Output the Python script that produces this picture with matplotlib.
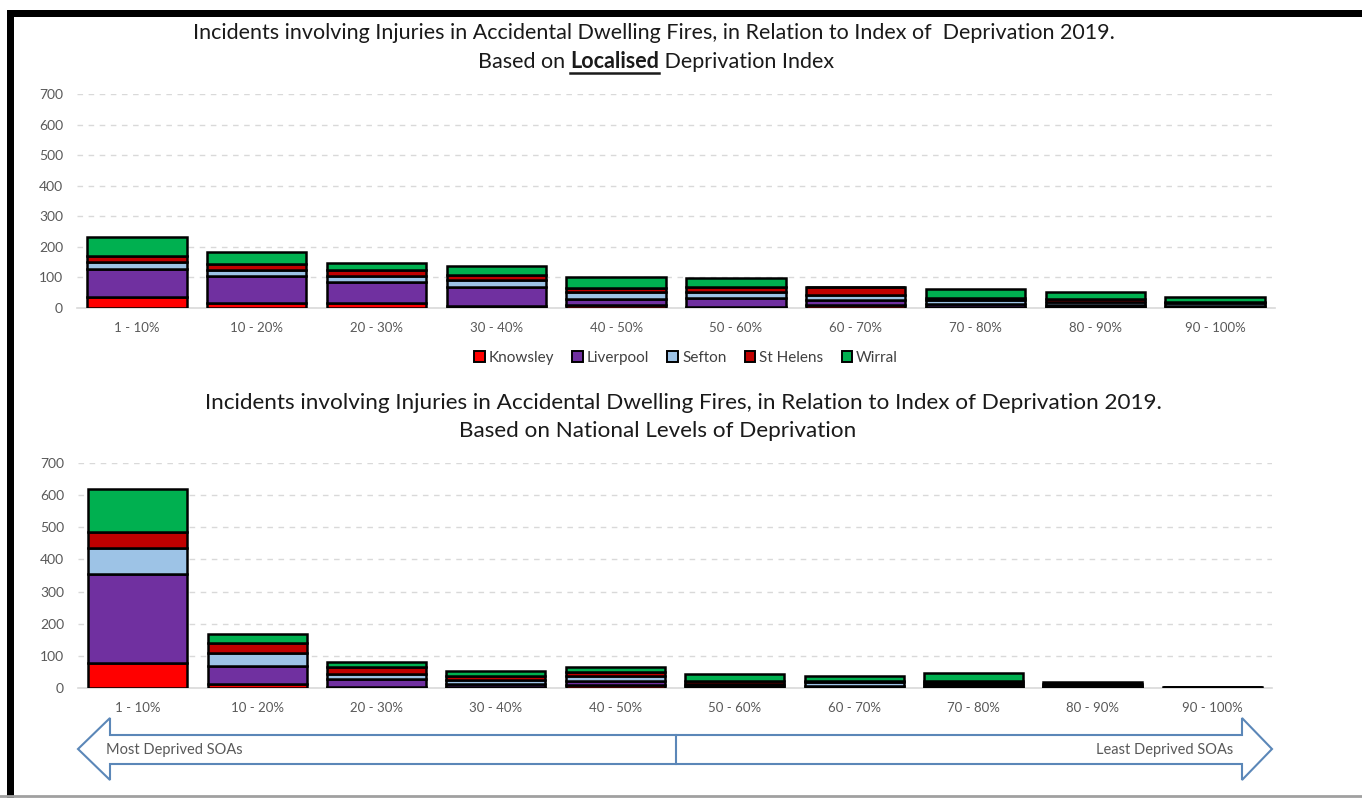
import matplotlib
matplotlib.use("Agg")
import matplotlib.pyplot as plt
from matplotlib.patches import Polygon, Rectangle
from matplotlib.lines import Line2D
import numpy as np

plt.rcParams['font.family'] = ['Lato', 'DejaVu Sans']

categories = ['1 - 10%', '10 - 20%', '20 - 30%', '30 - 40%', '40 - 50%',
              '50 - 60%', '60 - 70%', '70 - 80%', '80 - 90%', '90 - 100%']
series_names = ['Knowsley', 'Liverpool', 'Sefton', 'St Helens', 'Wirral']
series_colors = ['#FF0000', '#7030A0', '#9DC3E6', '#C00000', '#00B050']

# Localised deprivation index
local_knowsley = [35, 15, 15, 6, 10, 2, 11, 3, 2, 1]
local_liverpool = [92, 90, 69, 64, 18, 32, 15, 10, 8, 5]
local_sefton = [24, 18, 21, 22, 25, 18, 16, 12, 10, 9]
local_sthelens = [20, 20, 19, 17, 14, 16, 27, 8, 8, 5]
local_wirral = [62, 40, 24, 28, 33, 30, 1, 29, 24, 16]

# National levels of deprivation
national_knowsley = [78, 13, 3, 2, 8, 1, 1, 2, 2, 0]
national_liverpool = [277, 57, 26, 10, 15, 4, 5, 7, 5, 1]
national_sefton = [80, 39, 15, 14, 14, 9, 12, 8, 4, 1]
national_sthelens = [49, 31, 20, 10, 14, 8, 4, 6, 3, 0]
national_wirral = [134, 29, 17, 16, 14, 22, 14, 23, 4, 1]

yticks = [0, 100, 200, 300, 400, 500, 600, 700]

W, H = 1362, 798
fig = plt.figure(figsize=(W / 100, H / 100), dpi=100)
fig.patch.set_facecolor('white')


def fx(x):
    return x / W


def fy(y):
    return 1 - y / H


def draw_stack(ax, data):
    x = np.arange(len(categories))
    bottom = np.zeros(len(categories))
    for vals, name, col in zip(data, series_names, series_colors):
        v = np.array(vals, dtype=float)
        ax.bar(x, v, bottom=bottom, width=0.83, color=col, edgecolor='black',
               linewidth=1.8, label=name, zorder=3)
        bottom += v
    ax.set_xlim(-0.5, len(categories) - 0.5)
    ax.set_ylim(0, 700)
    ax.set_yticks(yticks)
    ax.set_xticks(x)
    ax.set_xticklabels(categories)
    for s in ['top', 'right', 'left']:
        ax.spines[s].set_visible(False)
    ax.spines['bottom'].set_color('#D9D9D9')
    ax.spines['bottom'].set_linewidth(1.2)
    ax.tick_params(axis='both', length=0, colors='#595959')
    ax.tick_params(axis='y', pad=10, labelsize=10)
    ax.tick_params(axis='x', pad=10, labelsize=9.5)
    ax.yaxis.grid(True, linestyle=(0, (4, 4)), color='#D9D9D9', linewidth=1, zorder=0)
    ax.set_axisbelow(True)


ax1 = fig.add_axes([fx(77), fy(308), fx(1198), 214 / H])
draw_stack(ax1, [local_knowsley, local_liverpool, local_sefton, local_sthelens, local_wirral])

ax2 = fig.add_axes([fx(78), fy(688), fx(1194), 225 / H])
draw_stack(ax2, [national_knowsley, national_liverpool, national_sefton, national_sthelens, national_wirral])

# Titles
title_kw = dict(fontsize=15.5, color='#1a1a1a', va='center')
title_kw2 = dict(fontsize=16.2, color='#1a1a1a', va='center')
fig.text(fx(654), fy(33), 'Incidents involving Injuries in Accidental Dwelling Fires, in Relation to Index of  Deprivation 2019.',
         ha='center', **title_kw)
fig.text(fx(683), fy(403), 'Incidents involving Injuries in Accidental Dwelling Fires, in Relation to Index of Deprivation 2019.',
         ha='center', **title_kw2)
fig.text(fx(658), fy(431), 'Based on National Levels of Deprivation', ha='center', **title_kw2)

# Mixed-style second line of top title
fig.canvas.draw()
renderer = fig.canvas.get_renderer()
parts = [('Based on ', 'normal'), ('Localised', 'bold'), (' Deprivation Index', 'normal')]
widths = []
for txt, wgt in parts:
    t = fig.text(0, 0, txt, fontweight=wgt, **title_kw)
    bb = t.get_window_extent(renderer)
    widths.append(bb.width)
    t.remove()
total = sum(widths)
xstart = 656 - total / 2
for (txt, wgt), w in zip(parts, widths):
    fig.text(fx(xstart), fy(62), txt, fontweight=wgt, ha='left', **title_kw)
    if wgt == 'bold':
        fig.add_artist(Line2D([fx(xstart), fx(xstart + w)], [fy(73), fy(73)],
                              color='#1a1a1a', linewidth=1.8, transform=fig.transFigure))
    xstart += w

# Legend
handles = [Rectangle((0, 0), 1, 1, facecolor=c, edgecolor='black', linewidth=1.4) for c in series_colors]
fig.legend(handles, series_names, loc='center', bbox_to_anchor=(fx(686), fy(358)), ncol=5,
           frameon=False, fontsize=11, handlelength=0.7, handleheight=0.7, handletextpad=0.25,
           columnspacing=1.2, labelcolor='#404040')

# Double-headed arrow at the bottom
arrow_col = '#5B87B8'
pts = [(78, 749), (110, 718), (110, 735), (1242, 735), (1242, 718), (1272, 749),
       (1242, 780), (1242, 764), (110, 764), (110, 780)]
poly = Polygon([(fx(x), fy(y)) for x, y in pts], closed=True, facecolor='white',
               edgecolor=arrow_col, linewidth=1.5, transform=fig.transFigure)
fig.add_artist(poly)
fig.add_artist(Line2D([fx(676), fx(676)], [fy(735), fy(764)], color=arrow_col,
                      linewidth=1.5, transform=fig.transFigure))
fig.text(fx(106), fy(750), 'Most Deprived SOAs', ha='left', va='center', fontsize=10.5, color='#595959')
fig.text(fx(1233), fy(750), 'Least Deprived SOAs', ha='right', va='center', fontsize=10.5, color='#595959')

# Frame
fig.add_artist(Rectangle((fx(7), fy(17)), 1 - fx(7), 7 / H, facecolor='black', edgecolor='none',
                         transform=fig.transFigure))
fig.add_artist(Rectangle((fx(7), 0), 7 / W, fy(10), facecolor='black', edgecolor='none',
                         transform=fig.transFigure))
fig.add_artist(Line2D([0, 1], [fy(796), fy(796)], color='#A0A0A0', linewidth=2,
                      transform=fig.transFigure))

fig.savefig('out.png', dpi=100, facecolor='white')
